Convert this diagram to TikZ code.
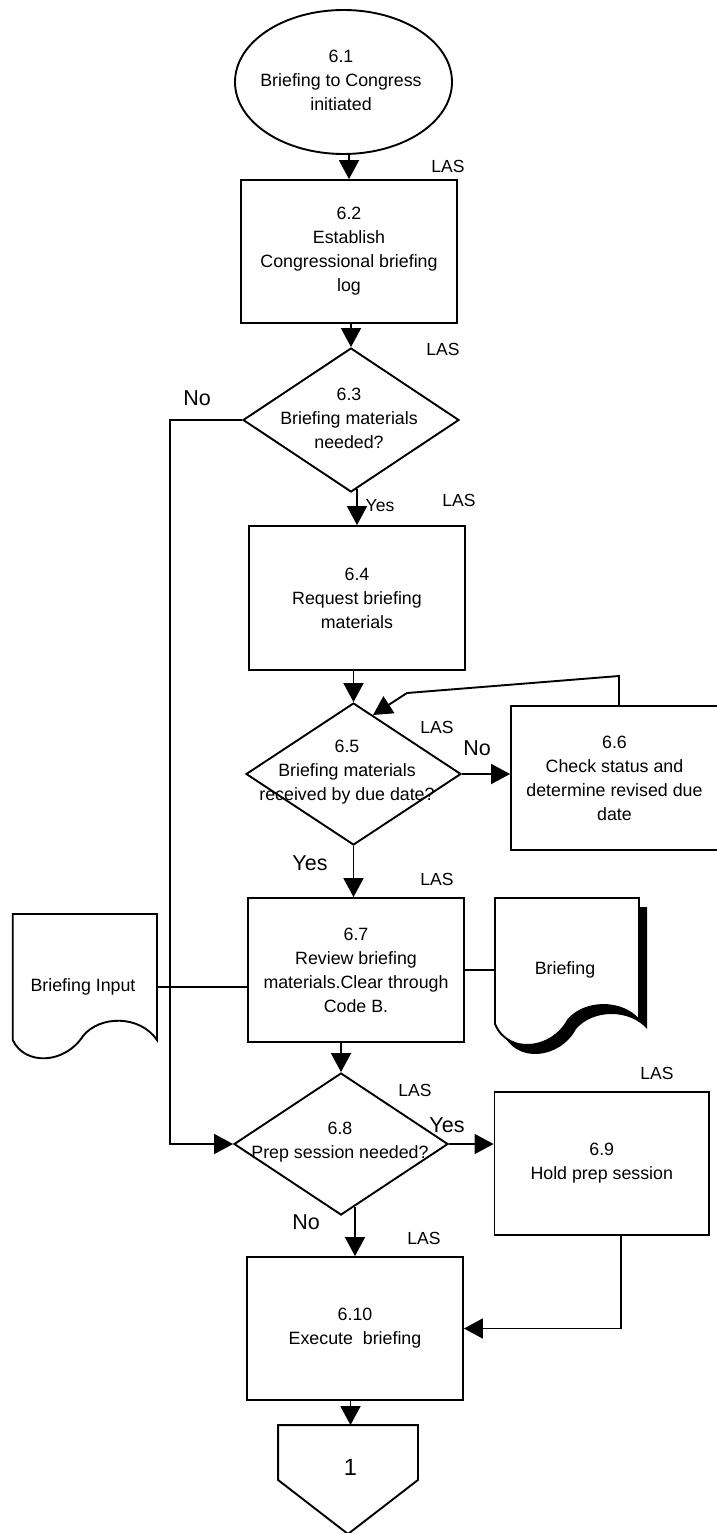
\documentclass[tikz,border=0pt]{standalone}
\usepackage{fontspec}
\setmainfont{Liberation Sans}
\usetikzlibrary{shapes.geometric,arrows.meta,calc}
\begin{document}
\begin{tikzpicture}[x=1pt,y=-1pt,line width=1.9pt,
  every node/.style={font=\fontsize{17.8}{24}\selectfont, align=center, inner sep=0pt},
  box/.style={draw, rectangle, minimum width=#1, minimum height=143pt},
  box/.default=216pt,
  dia/.style={draw, diamond, minimum width=215pt, minimum height=143pt, inner sep=0pt},
  ghost/.style={rectangle, draw=none, minimum width=#1},
  arr/.style={-{Triangle[width=20pt,length=19pt]}},
  las/.style={font=\fontsize{17.5}{20}\selectfont},
  yn/.style={font=\fontsize{21.5}{24}\selectfont},
  yns/.style={font=\fontsize{17.5}{20}\selectfont}]
\useasboundingbox (0,0) rectangle (717,1533);

% shapes
\node[draw, ellipse, minimum width=217pt, minimum height=144pt] (n61) at (343.5,82) {};
\node (t61) at (341,80) {6.1\\Briefing to Congress\\initiated};

\node[box] (n62) at (349,251.5) {6.2\\Establish\\Congressional briefing\\log};

\node[dia, minimum width=216pt, minimum height=144pt] (n63) at (351,420) {};
\node (t63) at (349,418) {6.3\\Briefing materials\\needed?};

\node[box, minimum height=144pt] (n64) at (357,598) {6.4\\Request briefing\\materials};

\node[dia, minimum height=142pt] (n65) at (353.5,774) {};
\node (t65) at (347,772) {6.5\\Briefing materials\\received by due date?};

\node[box=207pt, minimum height=144pt] (n66) at (614.5,778) {6.6\\Check status and\\determine revised due\\date};

\node[box, minimum height=144pt] (n67) at (356,970) {6.7\\Review briefing\\materials.Clear through\\Code B.};

\node[dia, minimum width=214pt, minimum height=142pt] (n68) at (341,1144) {};
\node (t68) at (340,1142) {6.8\\Prep session needed?};

\node[box=214.5pt, minimum height=143pt] (n69) at (601.75,1163.5) {6.9\\Hold prep session};

\node[box, minimum height=143pt] (n610) at (355,1328.5) {6.10\\Execute\ \ briefing};

% document: Briefing Input
\node[ghost=144.3pt, minimum height=126pt] (bi) at (84.85,977) {};
\draw[fill=white] (12.7,914) -- (157,914) -- (157,1040)
  .. controls (140,1015) and (100,1015) .. (83,1036)
  .. controls (65,1064) and (25,1066) .. (12.7,1040) -- cycle;
\node (bit) at (83,987) {Briefing Input};

% document: Briefing (with shadow)
\node[ghost=144pt, minimum height=126pt] (br) at (567,961) {};
\fill[black, shift={(8,9)}] (495,898) -- (639,898) -- (639,1020)
  .. controls (622,1000) and (585,1000) .. (568,1020)
  .. controls (552,1050) and (508,1055) .. (495,1024) -- cycle;
\draw[fill=white] (495,898) -- (639,898) -- (639,1020)
  .. controls (622,1000) and (585,1000) .. (568,1020)
  .. controls (552,1050) and (508,1055) .. (495,1024) -- cycle;
\node (brt) at (565,970) {Briefing};

% off-page connector
\node[ghost=138pt, minimum height=53pt] (c1) at (348,1452.5) {};
\draw (c1.north west) -- (c1.north east) -- (c1.south east) -- (348,1534) -- (c1.south west) -- cycle;
\node[font=\fontsize{23.5}{26}\selectfont] (c1t) at (350.5,1467) {1};

% connectors
\draw[arr] (n62.north |- n61.south) -- (n62.north);
\draw[arr] (n63.north |- n62.south) -- (n63.north);
\draw[arr] ([xshift=6pt,yshift=4pt]n63.south) -- (n64.north);
\draw[arr] (n65.north |- n64.south) -- (n65.north);
\draw[arr] (n65.east) -- (n65.east -| n66.west);
\coordinate (fb1) at (619,676);
\coordinate (fb2) at (407,693);
\coordinate (fbend) at ($(n65.north)!0.18!(n65.east)$);
\draw[arr] ([xshift=4.5pt]n66.north) -- (fb1) -- (fb2) -- (fbend);
\draw[arr] (n65.south) -- (n65.south |- n67.north);
\draw (bit -| bi.east) -- (bit -| n67.west);
\draw (n67.east |- brt) -- (br.west |- brt);
\coordinate (no1) at (170,420);
\coordinate (no2) at (170,1144);
\draw[arr] (n63.west) -- (no1) -- (no2) -- (n68.west);
\draw[arr] (n68.north |- n67.south) -- (n68.north);
\draw[arr] (n68.east) -- (n68.east -| n69.west);
\draw[arr] ([xshift=14pt,yshift=9.3pt]n68.south) -- (n610.north);
\draw[arr] ([xshift=19.25pt]n69.south) |- (n610.east);
\draw[arr] (n610.south -| c1t) -- (c1.north -| c1t);

% labels
\node[las] (l1) at (448,166) {LAS};
\node[las] (l2) at (443,349) {LAS};
\node[las] (l3) at (459,500) {LAS};
\node[las] (l4) at (437,727) {LAS};
\node[las] (l5) at (437,879) {LAS};
\node[las] (l6) at (415,1090) {LAS};
\node[las] (l7) at (657,1073) {LAS};
\node[las] (l8) at (424,1238) {LAS};

\node[yn] (y1) at (197,398) {No};
\node[yns] (y2) at (380,506) {Yes};
\node[yn] (y3) at (477,748) {No};
\node[yn] (y4) at (310,863) {Yes};
\node[yn] (y5) at (447,1125) {Yes};
\node[yn] (y6) at (306,1222) {No};
\end{tikzpicture}
\end{document}
